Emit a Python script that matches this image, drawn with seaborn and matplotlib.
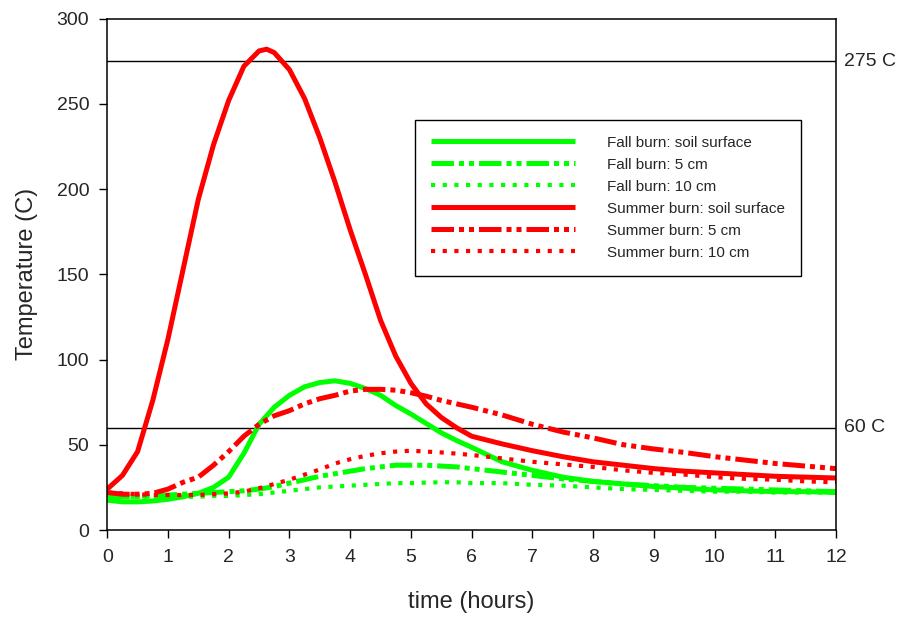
import numpy as np
import pandas as pd
import matplotlib
matplotlib.use("Agg")
import matplotlib.pyplot as plt
import matplotlib.transforms as mtransforms
import seaborn as sns

# hours since ignition
hours = [0, 0.25, 0.5, 0.75, 1, 1.25, 1.5, 1.75, 2, 2.25, 2.5, 2.625, 2.75, 3, 3.25, 3.5,
         3.75, 4, 4.25, 4.5, 4.75, 5, 5.25, 5.5, 5.75, 6, 6.5, 7, 7.5, 8, 8.5, 9, 9.5, 10,
         10.5, 11, 11.5, 12]

fall_surface = [17.5, 16.5, 16.5, 17, 18, 19.5, 21.5, 25, 31, 45, 62, 67, 72, 79, 84, 86.5,
                87.5, 86, 83, 79, 73, 68, 62.5, 57, 52.5, 48.5, 40, 35, 31, 28.5, 27, 25.5, 24.5, 23.5,
                23, 22.5, 22.5, 22]
fall_5cm = [20, 19.5, 19.5, 20, 20.5, 21, 21.5, 22, 22.5, 23, 24, 24.7, 25.5, 27.5, 29.5, 31.5,
            33, 34.5, 36, 37, 38, 38, 38, 37.5, 37, 36, 34, 32, 30, 28.5, 27, 26, 25, 24.5,
            24, 23.5, 23, 22.5]
fall_10cm = [20, 19.5, 19.5, 19.5, 19.5, 19.5, 19.5, 20, 20, 20.5, 21, 21.5, 22, 23, 24, 25,
             25.5, 26, 26.5, 27, 27.5, 27.5, 27.8, 28, 28, 27.5, 27.5, 26.5, 26, 25, 24, 23.5, 23, 22.5,
             22.5, 22, 22, 22]
summer_surface = [24, 32, 46, 76, 112, 153, 194, 226, 252, 272, 281, 282, 280, 270, 253, 230,
                  204, 176, 150, 123, 102, 86, 74, 66, 60, 55, 50.5, 46.5, 43, 40, 38, 36, 34.5, 33.5,
                  32.5, 31.5, 31, 30.5]
summer_5cm = [22, 21, 21, 21.5, 24, 28, 31, 38, 46, 55, 62, 64.5, 67, 70, 74, 77,
              79, 81.5, 82.5, 82.5, 82, 80.5, 78.5, 76, 74, 72, 67.5, 62, 57.5, 54, 50, 47.5, 45.5, 43,
              41, 39, 37.5, 36]
summer_10cm = [22, 21.5, 21, 20.5, 20.5, 20.5, 20.5, 21, 21.5, 22.5, 24.5, 25.7, 27, 29.5, 32.5, 35.5,
               39, 41.5, 43.5, 45, 46, 46.5, 46, 45.5, 44.8, 44, 42, 40, 38.5, 37, 35, 33.5, 32.5, 31,
               30, 29.5, 28.5, 28]

labels = ["Fall burn: soil surface", "Fall burn: 5 cm", "Fall burn: 10 cm",
          "Summer burn: soil surface", "Summer burn: 5 cm", "Summer burn: 10 cm"]
thresholds = [275, 60]
threshold_labels = ["275 C", "60 C"]

sns.set_style("ticks")
plt.rcParams['font.family'] = ['Liberation Sans', 'DejaVu Sans']

series = [fall_surface, fall_5cm, fall_10cm, summer_surface, summer_5cm, summer_10cm]
colors = ['#00ff00'] * 3 + ['#ff0000'] * 3
dashdot = (0, (4.5, 1, 1, 1, 1, 1))
dotted = (0, (1, 1.8))
styles = ['-', dashdot, dotted] * 2
widths = [3.6, 3.6, 3.0] * 2

fig = plt.figure(figsize=(9.01, 6.17), dpi=100)
ax = fig.add_axes([0.119, 0.141, 0.809, 0.829])

for vals, lab, col, ls, lw in zip(series, labels, colors, styles, widths):
    df = pd.DataFrame({'time': hours, 'temp': vals})
    sns.lineplot(data=df, x='time', y='temp', ax=ax, color=col, linewidth=lw,
                 linestyle=ls, label=lab, solid_capstyle='butt', dash_capstyle='butt',
                 solid_joinstyle='round')

for t, tl in zip(thresholds, threshold_labels):
    ax.axhline(t, color='black', linewidth=1.0, zorder=1)
    ax.text(1.011, t, tl, transform=mtransforms.blended_transform_factory(ax.transAxes, ax.transData),
            ha='left', va='center', fontsize=14)

ax.set_xlim(0, 12)
ax.set_ylim(0, 300)
ax.set_xticks(range(0, 13))
ax.set_yticks(range(0, 301, 50))
ax.tick_params(axis='both', direction='out', length=6, width=1, labelsize=14, color='black')
ax.tick_params(axis='x', pad=8)
ax.tick_params(axis='y', pad=7)
for sp in ax.spines.values():
    sp.set_visible(True)
    sp.set_color('black')
    sp.set_linewidth(1.1)

ax.set_xlabel('time (hours)', fontsize=17, labelpad=18)
ax.set_ylabel('Temperature (C)', fontsize=17, labelpad=13)

leg = ax.legend(loc='upper left', bbox_to_anchor=(0.4225, 0.802), borderaxespad=0,
                fontsize=11, handlelength=9.4, handletextpad=2.1, labelspacing=0.52,
                frameon=True, fancybox=False, edgecolor='black', framealpha=1,
                borderpad=1.05)
leg.get_frame().set_linewidth(1.0)

fig.savefig('out.png', dpi=100)
